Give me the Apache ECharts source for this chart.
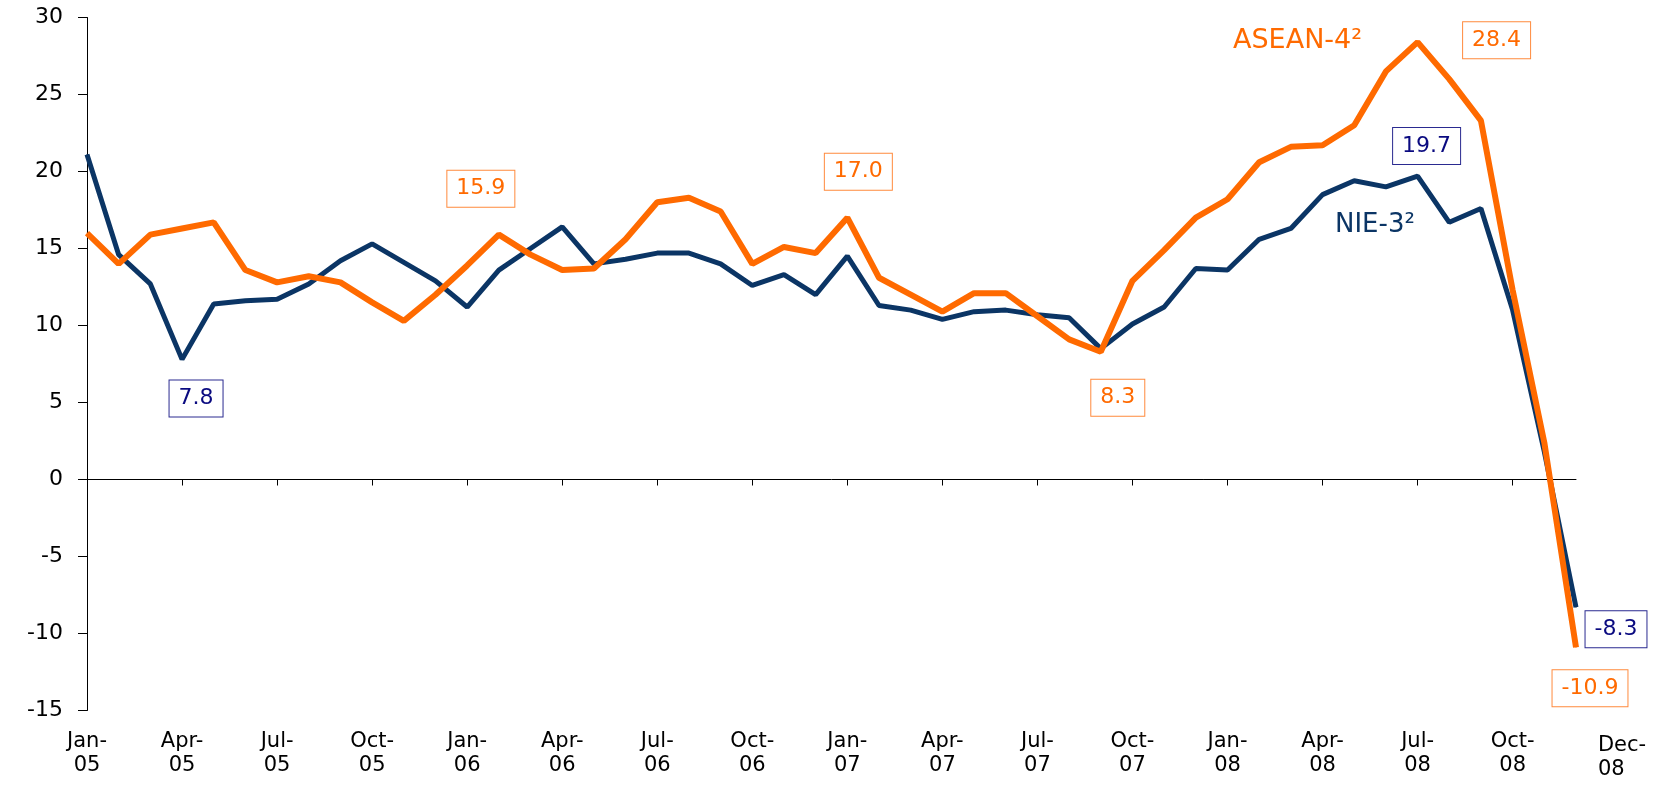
<!DOCTYPE html>
<html>
<head>
<meta charset="utf-8">
<title>NIE-3 / ASEAN-4</title>
<script src="https://cdn.jsdelivr.net/npm/echarts@6/dist/echarts.min.js"></script>
<style>
    html, body { margin: 0; padding: 0; background: #fff; }
    #main { width: 1673px; height: 785px; }
</style>
</head>
<body>
<div id="main"></div>
<script>
// months Jan-05 .. Dec-08
var years = ['05', '06', '07', '08'];
var monthNames = ['Jan', 'Feb', 'Mar', 'Apr', 'May', 'Jun', 'Jul', 'Aug', 'Sep', 'Oct', 'Nov', 'Dec'];
var months = [];
years.forEach(function (y) {
    monthNames.forEach(function (m) { months.push(m + '-' + y); });
});

var nie3 = [21.1, 14.6, 12.7, 7.8, 11.4, 11.6, 11.7, 12.7, 14.2, 15.3, 14.1, 12.9,
    11.2, 13.6, 15.0, 16.4, 14.0, 14.3, 14.7, 14.7, 14.0, 12.6, 13.3, 12.0,
    14.5, 11.3, 11.0, 10.4, 10.9, 11.0, 10.7, 10.5, 8.5, 10.1, 11.2, 13.7,
    13.6, 15.6, 16.3, 18.5, 19.4, 19.0, 19.7, 16.7, 17.6, 11.0, 1.8, -8.3];

var asean4 = [16.0, 14.0, 15.9, 16.3, 16.7, 13.6, 12.8, 13.2, 12.8, 11.5, 10.3, 12.0,
    13.9, 15.9, 14.6, 13.6, 13.7, 15.6, 18.0, 18.3, 17.4, 14.0, 15.1, 14.7,
    17.0, 13.1, 12.0, 10.9, 12.1, 12.1, 10.6, 9.1, 8.3, 12.9, 14.9, 17.0,
    18.2, 20.6, 21.6, 21.7, 23.0, 26.5, 28.4, 26.0, 23.3, 12.3, 2.4, -10.9];

// which points carry a boxed value label
var nieLabelled = [3, 42, 47];
var aseanLabelled = [13, 24, 32, 42, 47];

(function () {
    var NAVY = '#0b3565';
    var ORANGE = '#ff6a00';
    var FONT = 'DejaVu Sans';
    var last = months.length - 1;

    // label box offsets from the point (px)
    var nieOffsets = { 3: [14, 39], 42: [9, -30], 47: [40, 22] };
    var aseanOffsets = { 13: [-18, -46], 24: [11, -46], 32: [17, 46], 42: [79, -2], 47: [14, 41] };

    function buildData(values, labelled, offsets, textColor, borderColor) {
        return values.map(function (v, i) {
            if (labelled.indexOf(i) < 0) return v;
            return {
                value: v,
                label: {
                    show: true,
                    position: 'inside',
                    offset: offsets[i],
                    formatter: function (p) { return p.value.toFixed(1); },
                    color: textColor,
                    fontFamily: FONT,
                    fontSize: 22,
                    borderColor: borderColor,
                    borderWidth: 1,
                    backgroundColor: '#fff',
                    padding: [8, 9, 6, 9]
                }
            };
        });
    }

    function splitLabel(val) {
        var parts = val.split('-');
        return parts[0] + '-\n' + parts[1];
    }

    var myChart = echarts.init(document.getElementById('main'));
    var option = {
        animation: false,
        backgroundColor: '#fff',
        grid: { left: 87, right: 97, top: 17.5, bottom: 74.5 },
        xAxis: [
            {
                // axis line through zero with the quarterly ticks
                type: 'category',
                data: months,
                boundaryGap: false,
                axisLine: { onZero: true, lineStyle: { color: '#000', width: 1 } },
                axisTick: {
                    show: true,
                    length: 6,
                    interval: function (i) { return i % 3 === 0; },
                    lineStyle: { color: '#000' }
                },
                axisLabel: { show: false },
                splitLine: { show: false }
            },
            {
                // quarterly labels along the bottom
                type: 'category',
                data: months,
                boundaryGap: false,
                position: 'bottom',
                axisLine: { show: false, onZero: false },
                axisTick: { show: false },
                axisLabel: {
                    interval: function (i) { return i % 3 === 0; },
                    margin: 19,
                    color: '#000',
                    fontFamily: FONT,
                    fontSize: 21,
                    lineHeight: 24,
                    formatter: splitLabel
                },
                splitLine: { show: false }
            },
            {
                // the last month, set off to the right and a bit lower
                type: 'category',
                data: months,
                boundaryGap: false,
                position: 'bottom',
                axisLine: { show: false, onZero: false },
                axisTick: { show: false },
                axisLabel: {
                    interval: function (i) { return i === last; },
                    showMaxLabel: true,
                    margin: 19,
                    formatter: function (val) {
                        var parts = val.split('-');
                        return '{dec|' + parts[0] + '-}\n{dec|' + parts[1] + '}';
                    },
                    rich: {
                        dec: {
                            fontFamily: FONT,
                            fontSize: 21,
                            lineHeight: 24,
                            color: '#000',
                            align: 'left',
                            padding: [8, 0, 0, 92]
                        }
                    }
                },
                splitLine: { show: false }
            }
        ],
        yAxis: {
            type: 'value',
            min: -15,
            max: 30,
            interval: 5,
            axisLine: { show: true, lineStyle: { color: '#000', width: 1 } },
            axisTick: { show: true, length: 9, lineStyle: { color: '#000' } },
            axisLabel: { color: '#000', fontFamily: FONT, fontSize: 22, margin: 24 },
            splitLine: { show: false }
        },
        graphic: [
            {
                type: 'text',
                left: 1233,
                top: 27,
                style: { text: 'ASEAN-4\u00b2', fill: ORANGE, font: '27px "DejaVu Sans"' }
            },
            {
                type: 'text',
                left: 1335,
                top: 212,
                style: { text: 'NIE-3\u00b2', fill: NAVY, font: '26px "DejaVu Sans"' }
            }
        ],
        series: [
            {
                name: 'NIE-3',
                type: 'line',
                data: buildData(nie3, nieLabelled, nieOffsets, '#0a0a80', '#2a2a90'),
                symbol: 'circle',
                symbolSize: 1,
                showSymbol: true,
                itemStyle: { color: NAVY },
                lineStyle: { color: NAVY, width: 5 },
                silent: true,
                z: 2
            },
            {
                name: 'ASEAN-4',
                type: 'line',
                data: buildData(asean4, aseanLabelled, aseanOffsets, ORANGE, '#ff8a3d'),
                symbol: 'circle',
                symbolSize: 1,
                showSymbol: true,
                itemStyle: { color: ORANGE },
                lineStyle: { color: ORANGE, width: 6 },
                silent: true,
                z: 3
            }
        ]
    };
    myChart.setOption(option);
})();
</script>
</body>
</html>
